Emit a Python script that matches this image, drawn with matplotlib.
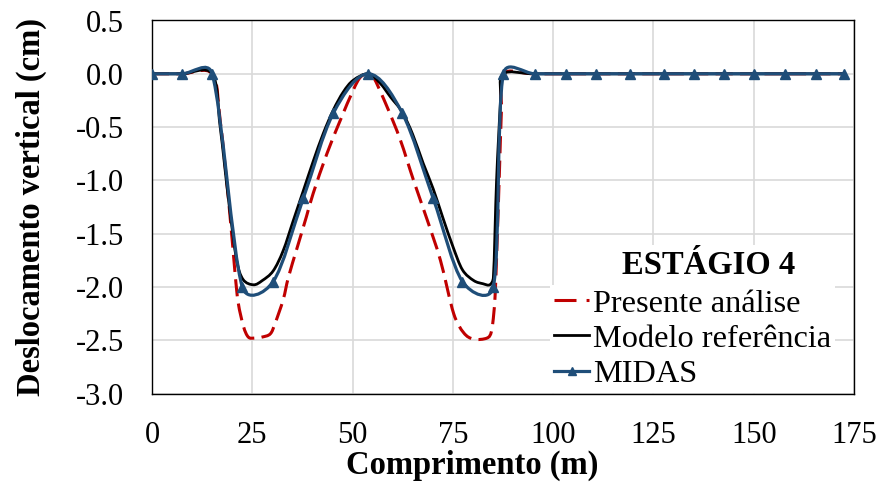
import numpy as np
import matplotlib
matplotlib.use("Agg")
import matplotlib.pyplot as plt
from matplotlib.path import Path
from matplotlib.patches import PathPatch
from matplotlib.lines import Line2D
from matplotlib.ticker import FormatStrFormatter

# --- data (comprimento em m, deslocamento em cm) ---
midas_x = [0, 7.5, 15.0, 22.5, 30.2, 37.7, 45.2, 53.9, 62.4, 70.1, 77.4, 85.1,
           87.6, 95.4, 103.1, 110.6, 119.1, 127.6, 135.1, 142.5, 150.0, 157.8, 165.5, 172.5]
midas_y = [0, 0, 0, -2.00, -1.95, -1.17, -0.37, 0, -0.37, -1.17, -1.95, -2.00,
           0, 0, 0, 0, 0, 0, 0, 0, 0, 0, 0, 0]

ref_x = [0, 7.5, 15.0, 17.0, 19.1, 21.1, 22.7, 25.3, 27.5, 30.2, 32.7, 35.2, 37.7,
         40.2, 42.7, 45.2, 47.7, 50.2, 53.9, 56.9, 59.5, 62.4, 65.0, 67.6, 70.1,
         72.5, 75.0, 77.4, 80.2, 82.5, 84.2, 85.1, 85.9, 86.9, 87.6, 95.4, 110.6,
         127.6, 142.5, 157.8, 172.5]
ref_y = [0, 0, 0, -0.50, -1.19, -1.75, -1.93, -1.98, -1.94, -1.85, -1.66, -1.38, -1.10,
         -0.82, -0.56, -0.34, -0.17, -0.06, 0, -0.09, -0.22, -0.36, -0.57, -0.84, -1.08,
         -1.35, -1.62, -1.84, -1.94, -1.97, -1.98, -1.91, -1.00, -0.25, 0, 0, 0,
         0, 0, 0, 0]

pres_x = [0, 7.5, 15.0, 17.0, 19.1, 20.7, 21.5, 22.8, 24.0, 25.5, 27.5, 29.5, 30.7,
          32.7, 34.0, 36.2, 38.5, 40.2, 43.6, 46.9, 50.2, 52.0, 53.9, 55.2, 58.6,
          61.9, 65.2, 68.6, 71.9, 75.2, 77.7, 80.2, 83.5, 84.6, 85.2, 85.6, 86.1,
          86.6, 87.1, 87.6, 95.4, 110.6, 127.6, 142.5, 157.8, 172.5]
pres_y = [0, 0, 0, -0.44, -1.19, -1.87, -2.15, -2.37, -2.47, -2.48, -2.47, -2.44, -2.34,
          -2.12, -1.91, -1.63, -1.34, -1.12, -0.75, -0.44, -0.15, -0.03, 0, -0.03, -0.31,
          -0.62, -1.00, -1.37, -1.75, -2.25, -2.43, -2.49, -2.48, -2.42, -2.25, -2.03, -1.50,
          -0.93, -0.35, 0, 0, 0, 0, 0, 0, 0]

x_ticks = [0, 25, 50, 75, 100, 125, 150, 175]
y_ticks = [-3.0, -2.5, -2.0, -1.5, -1.0, -0.5, 0.0, 0.5]

series_labels = ["Presente análise", "Modelo referência", "MIDAS"]
stage_title = "ESTÁGIO 4"

RED = "#C00000"
BLUE = "#1F4E79"
FONT = "Liberation Serif"

plt.rcParams["font.family"] = [FONT, "DejaVu Serif"]

fig = plt.figure(figsize=(8.93, 4.88), dpi=100)
W, H = 893, 488
ax = fig.add_axes([152 / W, 1 - 393.5 / H, (854 - 152) / W, (393.5 - 20.5) / H])
ax.set_xlim(0, 175)
ax.set_ylim(-3.0, 0.5)


def smooth_curve(ax, xs, ys, **kw):
    """Spreadsheet-style smoothed line: cubic Bezier through every point,
    tangent arms of 1/6 of the neighbour chord, capped at half the segment."""
    pts = ax.transData.transform(np.column_stack([xs, ys]))
    n = len(pts)
    verts = [pts[0]]
    codes = [Path.MOVETO]
    for i in range(n - 1):
        p0 = pts[i - 1] if i > 0 else pts[i]
        p1 = pts[i]
        p2 = pts[i + 1]
        p3 = pts[i + 2] if i + 2 < n else pts[i + 1]
        d12 = np.hypot(*(p2 - p1))
        a1 = (p2 - p0) / 6.0
        a2 = (p3 - p1) / 6.0
        for a in (a1, a2):
            la = np.hypot(*a)
            if la > d12 / 2 and la > 0:
                a *= (d12 / 2) / la
        verts += [p1 + a1, p2 - a2, p2]
        codes += [Path.CURVE4] * 3
    data_verts = ax.transData.inverted().transform(np.array(verts))
    patch = PathPatch(Path(data_verts, codes), fill=False, capstyle="butt",
                      joinstyle="round", **kw)
    ax.add_patch(patch)
    return patch


DASH = (0, (5.6, 2.4))
smooth_curve(ax, pres_x, pres_y, edgecolor=RED, linewidth=2.2, linestyle=DASH, zorder=3)
smooth_curve(ax, ref_x, ref_y, edgecolor="black", linewidth=2.0, zorder=4)
smooth_curve(ax, midas_x, midas_y, edgecolor=BLUE, linewidth=2.3, zorder=5)
ax.plot(midas_x, midas_y, linestyle="none", marker="^", markersize=7,
        color=BLUE, zorder=6)

# axes styling
ax.set_xticks(x_ticks)
ax.set_yticks(y_ticks)
ax.yaxis.set_major_formatter(FormatStrFormatter("%.1f"))
ax.grid(True, color="#D9D9D9", linewidth=1.2, zorder=0)
ax.set_axisbelow(True)
ax.tick_params(axis="both", length=0, labelsize=22)
ax.tick_params(axis="x", pad=20)
ax.tick_params(axis="y", pad=20)
for s in ax.spines.values():
    s.set_color("black")
    s.set_linewidth(1.0)

ax.set_xlabel("Comprimento (m)", fontsize=23.5, fontweight="bold")
ax.set_ylabel("Deslocamento vertical (cm)", fontsize=23.5, fontweight="bold")
ax.xaxis.set_label_coords((472 - 152) / 702, (393.5 - 450) / 373)
ax.yaxis.set_label_coords((47 - 152) / 702, 0.5)

handles = [
    Line2D([], [], color=RED, linewidth=2.2, linestyle=(0, (7.2, 3.3))),
    Line2D([], [], color="black", linewidth=2.0),
    Line2D([], [], color=BLUE, linewidth=2.3, marker="^", markersize=6),
]
leg = ax.legend(handles, series_labels, loc="upper left",
                bbox_to_anchor=((550 - 152) / 702, (393.5 - 285) / 373),
                borderaxespad=0.0, fontsize=23.3, frameon=True, fancybox=False,
                framealpha=1.0, facecolor="white", edgecolor="none",
                handlelength=1.1, handletextpad=0.12, labelspacing=0.17,
                borderpad=0.12)
leg.set_zorder(10)

ax.text((709 - 152) / 702, (393.5 - 266) / 373, stage_title, transform=ax.transAxes,
        ha="center", va="center", fontsize=23.5, fontweight="bold", zorder=11,
        bbox=dict(facecolor="white", edgecolor="none", pad=4))

fig.savefig("out.png", dpi=100)
